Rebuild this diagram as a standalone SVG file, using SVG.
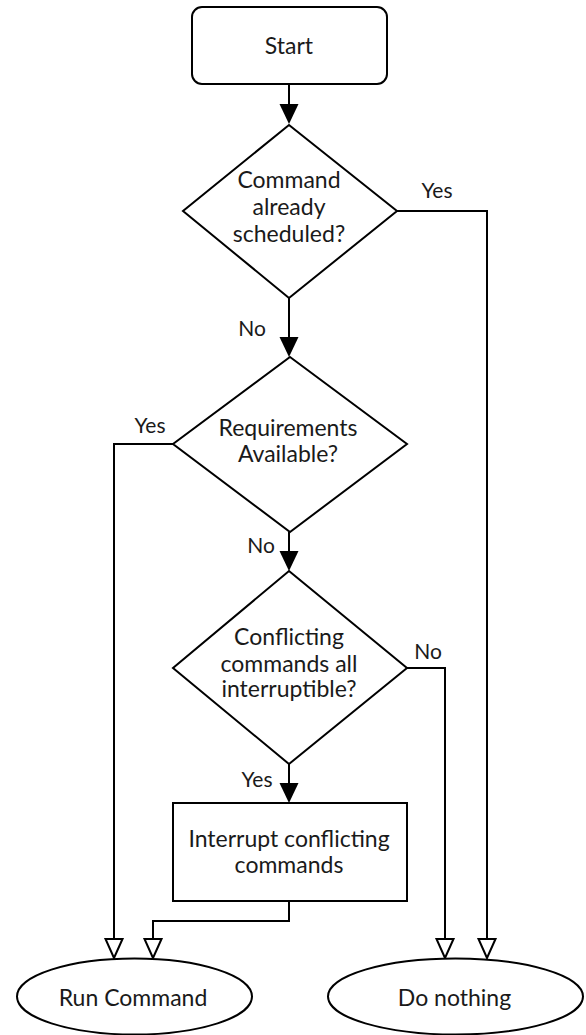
<svg xmlns="http://www.w3.org/2000/svg" width="586" height="1035" viewBox="0 0 586 1035">
  <style>
    .shape { fill: #ffffff; stroke: #000000; stroke-width: 2; }
    .edge { fill: none; stroke: #000000; stroke-width: 2; }
    .txt { font-family: Lato, "Liberation Sans", sans-serif; font-size: 23px; fill: #1a1a1a; text-anchor: middle; }
    .lbl { font-family: Lato, "Liberation Sans", sans-serif; font-size: 21px; fill: #1a1a1a; text-anchor: middle; }
  </style>
  <defs>
    <marker id="solid" viewBox="0 0 20 19" refX="0" refY="9.5" markerWidth="20" markerHeight="19" markerUnits="userSpaceOnUse" orient="auto" overflow="visible">
      <path d="M0,0 L20,9.5 L0,19 z" fill="#000000"/>
    </marker>
    <marker id="open" viewBox="0 0 19 17" refX="0" refY="8.5" markerWidth="19" markerHeight="17" markerUnits="userSpaceOnUse" orient="auto" overflow="visible">
      <path d="M0,0 L19,8.5 L0,17 z" fill="#ffffff" stroke="#000000" stroke-width="2" stroke-linejoin="miter"/>
    </marker>
  </defs>

  <!-- connectors -->
  <g id="connectors">
    <path class="edge" d="M289,84 V104" marker-end="url(#solid)"/>
    <path class="edge" d="M397,211 H487 V939" marker-end="url(#open)"/>
    <path class="edge" d="M289,298 V337" marker-end="url(#solid)"/>
    <path class="edge" d="M173,444 H114 V939" marker-end="url(#open)"/>
    <path class="edge" d="M289,532 V551" marker-end="url(#solid)"/>
    <path class="edge" d="M407,668 H445 V939" marker-end="url(#open)"/>
    <path class="edge" d="M289,764 V783" marker-end="url(#solid)"/>
    <path class="edge" d="M289,901 V921 H153 V939" marker-end="url(#open)"/>
    <text class="lbl" x="437" y="198">Yes</text>
    <text class="lbl" x="252" y="336">No</text>
    <text class="lbl" x="150" y="433">Yes</text>
    <text class="lbl" x="261" y="553">No</text>
    <text class="lbl" x="428" y="659">No</text>
    <text class="lbl" x="257" y="787">Yes</text>
  </g>

  <!-- start -->
  <g id="start">
    <rect class="shape" x="192" y="7" width="195" height="77" rx="10" ry="10"/>
    <text class="txt" x="289" y="54">Start</text>
  </g>

  <!-- decision: already scheduled -->
  <g id="already-scheduled">
    <polygon class="shape" points="289,125 397,211 289,298 183,211"/>
    <text class="txt" x="289" y="188">Command</text>
    <text class="txt" x="289" y="215">already</text>
    <text class="txt" x="289" y="242">scheduled?</text>
  </g>

  <!-- decision: requirements available -->
  <g id="requirements-available">
    <polygon class="shape" points="290,357 407,444 290,532 173,444"/>
    <text class="txt" x="288" y="436">Requirements</text>
    <text class="txt" x="288" y="462">Available?</text>
  </g>

  <!-- decision: conflicts interruptible -->
  <g id="conflicts-interruptible">
    <polygon class="shape" points="289,571 407,668 289,764 173,668"/>
    <text class="txt" x="289" y="645">Conflicting</text>
    <text class="txt" x="289" y="672">commands all</text>
    <text class="txt" x="289" y="697">interruptible?</text>
  </g>

  <!-- process: interrupt -->
  <g id="interrupt">
    <rect class="shape" x="173" y="803" width="234" height="98"/>
    <text class="txt" x="289" y="847">Interrupt conflicting</text>
    <text class="txt" x="289" y="873">commands</text>
  </g>

  <!-- terminals -->
  <g id="run-command">
    <ellipse class="shape" cx="134.5" cy="996.5" rx="117.5" ry="38"/>
    <text class="txt" x="133" y="1006">Run Command</text>
  </g>
  <g id="do-nothing">
    <ellipse class="shape" cx="455.5" cy="996.5" rx="127.5" ry="38"/>
    <text class="txt" x="454.5" y="1006">Do nothing</text>
  </g>
</svg>
